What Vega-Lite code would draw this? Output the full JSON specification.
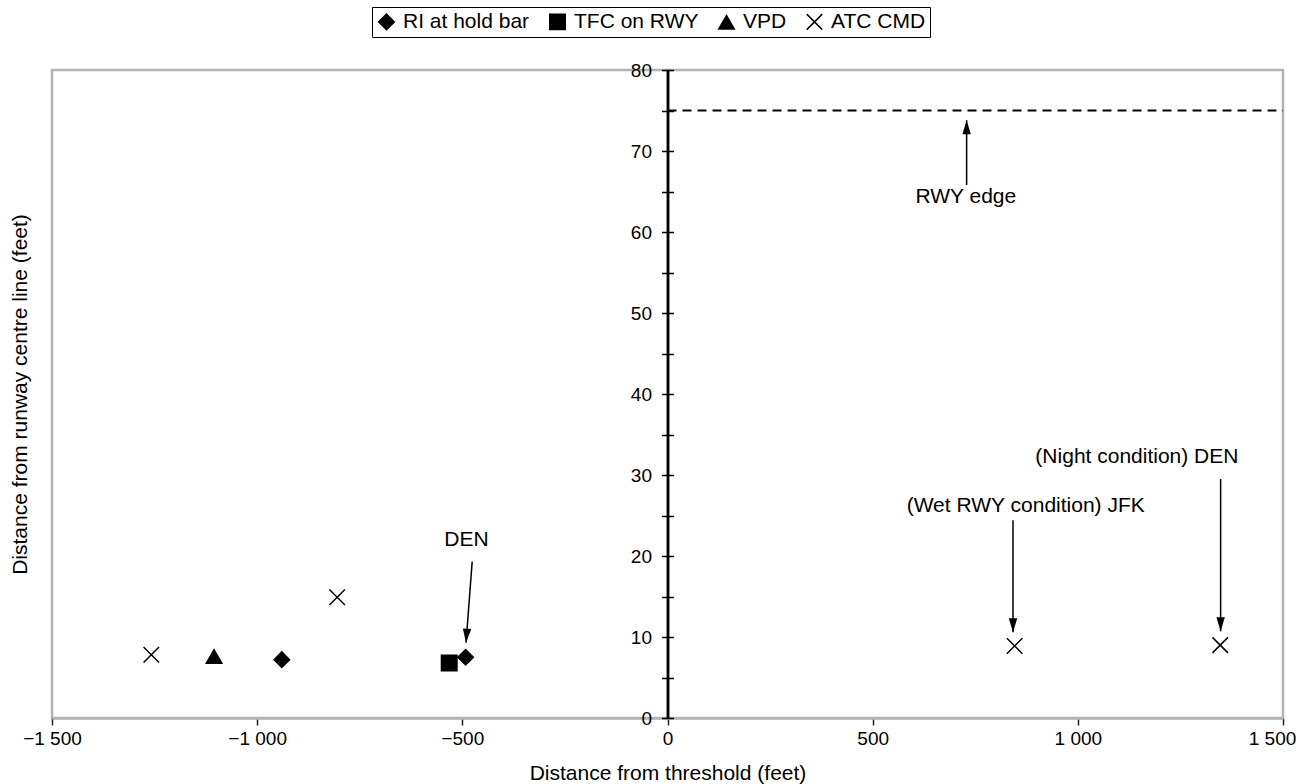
{
  "$schema": "https://vega.github.io/schema/vega-lite/v6.json",
  "width": 1231,
  "height": 648,
  "autosize": {"type": "none"},
  "padding": {"left": 52, "top": 70, "right": 14, "bottom": 66},
  "background": "white",
  "config": {
    "font": "Liberation Sans",
    "view": {"stroke": "#b3b3b3", "strokeWidth": 2.5},
    "locale": {"number": {"decimal": ".", "thousands": " ", "grouping": [3], "currency": ["", ""], "minus": "\u2212"}},
    "axis": {"grid": false, "labelFont": "Liberation Sans", "titleFont": "Liberation Sans", "labelFontSize": 19, "titleFontSize": 21, "labelColor": "black", "titleColor": "black", "titleFontWeight": "normal"}
  },
  "datasets": {
    "pts": [
      {"series": "VPD", "x": -1105, "y": 7.6},
      {"series": "ATC CMD", "x": -1258, "y": 7.8},
      {"series": "ATC CMD", "x": -805, "y": 14.9},
      {"series": "ATC CMD", "x": 846, "y": 8.9},
      {"series": "ATC CMD", "x": 1347, "y": 9.0},
      {"series": "TFC on RWY", "x": -532, "y": 6.8},
      {"series": "RI at hold bar", "x": -940, "y": 7.2},
      {"series": "RI at hold bar", "x": -492, "y": 7.5}
    ],
    "arrows": [
      {"x": -476, "y": 19.3, "x2": -491, "y2": 9.3, "angle": 184.2},
      {"x": 729, "y": 65.8, "x2": 729, "y2": 73.8, "angle": 0},
      {"x": 842, "y": 24.4, "x2": 842, "y2": 10.6, "angle": 180},
      {"x": 1348, "y": 29.5, "x2": 1348, "y2": 10.7, "angle": 180}
    ],
    "labels": [
      {"text": "DEN", "x": -490, "y": 22},
      {"text": "RWY edge", "x": 727, "y": 64.3},
      {"text": "(Wet RWY condition) JFK", "x": 873, "y": 26.2},
      {"text": "(Night condition) DEN", "x": 1144, "y": 32.2}
    ],
    "edge": [{"x": 0, "x2": 1500, "y": 75}]
  },
  "layer": [
    {
      "data": {"name": "edge"},
      "mark": {"type": "rule", "color": "black", "strokeWidth": 2, "strokeDash": [9, 6]},
      "encoding": {
        "x": {"field": "x", "type": "quantitative", "scale": {"domain": [-1500, 1500], "nice": false, "zero": false},
          "axis": {"title": "Distance from threshold (feet)", "titleFontSize": 21, "values": [-1500, -1000, -500, 0, 500, 1000, 1500], "format": ",.0f", "labelFlush": false, "labelOverlap": false, "labelBound": false, "labelOffset": {"condition": {"test": "datum.value == 1500", "value": -11}, "value": 0}, "domainColor": "#b3b3b3", "domainWidth": 2.5, "tickColor": "#222222", "tickWidth": 1.5, "tickSize": 7, "labelPadding": 4, "titlePadding": 14}},
        "x2": {"field": "x2"},
        "y": {"field": "y", "type": "quantitative", "scale": {"domain": [0, 80], "nice": false},
          "axis": {"orient": "right", "offset": -615.5, "labels": false, "title": null, "values": [0, 5, 10, 15, 20, 25, 30, 35, 40, 45, 50, 55, 60, 65, 70, 75, 80], "tickSize": 6, "tickColor": "black", "tickWidth": 1.5, "domainColor": "black", "domainWidth": 2.5}}
      }
    },
    {
      "data": {"name": "arrows"},
      "mark": {"type": "rule", "color": "black", "strokeWidth": 1.5},
      "encoding": {
        "x": {"field": "x", "type": "quantitative"},
        "x2": {"field": "x2"},
        "y": {"field": "y", "type": "quantitative", "axis": null},
        "y2": {"field": "y2"}
      }
    },
    {
      "data": {"name": "arrows"},
      "mark": {"type": "point", "filled": true, "color": "black", "opacity": 1, "size": 784, "shape": "M0,0L0.3,1L-0.3,1Z"},
      "encoding": {
        "x": {"field": "x2", "type": "quantitative"},
        "y": {"field": "y2", "type": "quantitative", "axis": null},
        "angle": {"field": "angle", "type": "quantitative", "scale": null}
      }
    },
    {
      "data": {"name": "labels"},
      "mark": {"type": "text", "font": "Liberation Sans", "fontSize": 21, "color": "black", "align": "center", "baseline": "middle"},
      "encoding": {
        "x": {"field": "x", "type": "quantitative"},
        "y": {"field": "y", "type": "quantitative", "axis": null},
        "text": {"field": "text"}
      }
    },
    {
      "data": {"name": "pts"},
      "mark": {"type": "point", "stroke": "black", "strokeWidth": 1.5, "opacity": 1, "size": 240},
      "encoding": {
        "x": {"field": "x", "type": "quantitative"},
        "y": {"field": "y", "type": "quantitative",
          "axis": {"orient": "left", "offset": -615.5, "title": "Distance from runway centre line (feet)", "titleX": -647, "titleY": 324, "titleAngle": 270, "titleAlign": "center", "titleBaseline": "middle", "values": [0, 5, 10, 15, 20, 25, 30, 35, 40, 45, 50, 55, 60, 65, 70, 75, 80], "labelExpr": "datum.value % 10 == 0 ? datum.label : ''", "labelOverlap": false, "labelFlush": false, "tickSize": 6, "tickColor": "black", "tickWidth": 1.5, "domainColor": "black", "domainWidth": 2.5, "labelPadding": 10}},
        "shape": {"field": "series", "type": "nominal",
          "scale": {"domain": ["RI at hold bar", "TFC on RWY", "VPD", "ATC CMD"], "range": ["diamond", "square", "triangle-up", "M-1,-1L1,1M-1,1L1,-1"]},
          "legend": {"orient": "none", "legendX": 320, "legendY": -63, "direction": "horizontal", "title": null, "strokeColor": "black", "fillColor": "white", "padding": 4, "labelFontSize": 21, "labelFont": "Liberation Sans", "labelColor": "black", "symbolSize": 240, "columnPadding": 16, "labelOffset": 6,
            "encode": {"symbols": {"update": {"stroke": {"value": "black"}, "strokeWidth": {"value": 1.5}, "opacity": {"value": 1}}}, "legend": {"update": {"strokeWidth": {"value": 1.5}}}}}},
        "fill": {"field": "series", "type": "nominal",
          "scale": {"domain": ["RI at hold bar", "TFC on RWY", "VPD", "ATC CMD"], "range": ["black", "black", "black", "transparent"]},
          "legend": {"orient": "none", "legendX": 320, "legendY": -63, "direction": "horizontal", "title": null, "strokeColor": "black", "fillColor": "white", "padding": 4, "labelFontSize": 21, "labelFont": "Liberation Sans", "labelColor": "black", "symbolSize": 240, "columnPadding": 16, "labelOffset": 6,
            "encode": {"symbols": {"update": {"stroke": {"value": "black"}, "strokeWidth": {"value": 1.5}, "opacity": {"value": 1}}}, "legend": {"update": {"strokeWidth": {"value": 1.5}}}}}}
      }
    }
  ],
  "resolve": {"axis": {"y": "independent"}}
}
